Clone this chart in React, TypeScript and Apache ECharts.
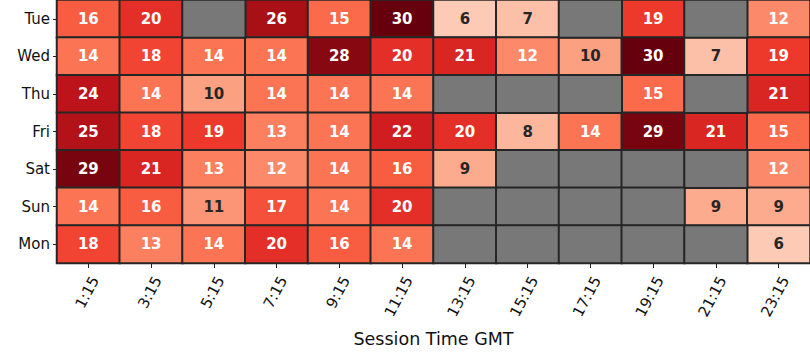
import React, { useEffect, useRef } from "react";
import * as echarts from "echarts";

const days = ["Tue", "Wed", "Thu", "Fri", "Sat", "Sun", "Mon"];
const times = ["1:15", "3:15", "5:15", "7:15", "9:15", "11:15", "13:15", "15:15", "17:15", "19:15", "21:15", "23:15"];

const tue = [16, 20, null, 26, 15, 30, 6, 7, null, 19, null, 12];
const wed = [14, 18, 14, 14, 28, 20, 21, 12, 10, 30, 7, 19];
const thu = [24, 14, 10, 14, 14, 14, null, null, null, 15, null, 21];
const fri = [25, 18, 19, 13, 14, 22, 20, 8, 14, 29, 21, 15];
const sat = [29, 21, 13, 12, 14, 16, 9, null, null, null, null, 12];
const sun = [14, 16, 11, 17, 14, 20, null, null, null, null, 9, 9];
const mon = [18, 13, 14, 20, 16, 14, null, null, null, null, null, 6];

const rows = [tue, wed, thu, fri, sat, sun, mon];

const reds = ["#fff5f0", "#fee0d2", "#fcbba1", "#fc9272", "#fb6a4a", "#ef3b2c", "#cb181d", "#a50f15", "#67000d"];

export default function App() {
  const ref = useRef<HTMLDivElement>(null);
  useEffect(() => {
    if (!ref.current) return;
    const chart = echarts.init(ref.current, null, { renderer: "svg" });
    const values: any[] = [];
    const missing: any[] = [];
    rows.forEach((r, yi) => {
      r.forEach((v, xi) => {
        if (v === null) {
          missing.push([xi, yi, 1]);
        } else {
          values.push({
            value: [xi, yi, v],
            label: { color: v <= 11 ? "#262626" : "#ffffff" },
          });
        }
      });
    });
    chart.setOption({
      animation: false,
      grid: { left: 57, right: 0, top: 0, bottom: 97 },
      xAxis: {
        type: "category",
        data: times,
        name: "Session Time GMT",
        nameLocation: "middle",
        nameGap: 67,
        nameTextStyle: { fontFamily: "DejaVu Sans", fontSize: 17.5, color: "#111" },
        axisLine: { show: false },
        axisTick: { show: true, alignWithLabel: true, length: 5, lineStyle: { color: "#222" } },
        axisLabel: {
          rotate: 62,
          margin: 11,
          verticalAlign: "top",
          fontFamily: "DejaVu Sans",
          fontSize: 15,
          color: "#111",
        },
        splitArea: { show: false },
      },
      yAxis: {
        type: "category",
        data: days,
        inverse: true,
        axisLine: { show: false },
        axisTick: { show: true, alignWithLabel: true, length: 4, lineStyle: { color: "#222" } },
        axisLabel: { margin: 7, fontFamily: "DejaVu Sans", fontSize: 15, color: "#111" },
      },
      visualMap: [
        {
          show: false,
          type: "continuous",
          seriesIndex: 0,
          dimension: 2,
          min: 0,
          max: 30,
          inRange: { color: reds },
        },
        {
          show: false,
          type: "continuous",
          seriesIndex: 1,
          dimension: 2,
          min: 0,
          max: 1,
          inRange: { color: ["#787878", "#787878"] },
        },
      ],
      series: [
        {
          type: "heatmap",
          data: values,
          itemStyle: { borderColor: "#262626", borderWidth: 2 },
          label: {
            show: true,
            fontFamily: "DejaVu Sans",
            fontWeight: "bold",
            fontSize: 15,
            formatter: (p: any) => String(p.value[2]),
          },
          emphasis: { disabled: true },
        },
        {
          type: "heatmap",
          data: missing,
          itemStyle: { borderColor: "#262626", borderWidth: 2, color: "#787878" },
          label: { show: false },
          emphasis: { disabled: true },
        },
      ],
    });
    return () => chart.dispose();
  }, []);
  return (
    <div
      ref={ref}
      style={{ position: "fixed", left: 0, top: 0, width: 810, height: 360, background: "#fff" }}
    />
  );
}
